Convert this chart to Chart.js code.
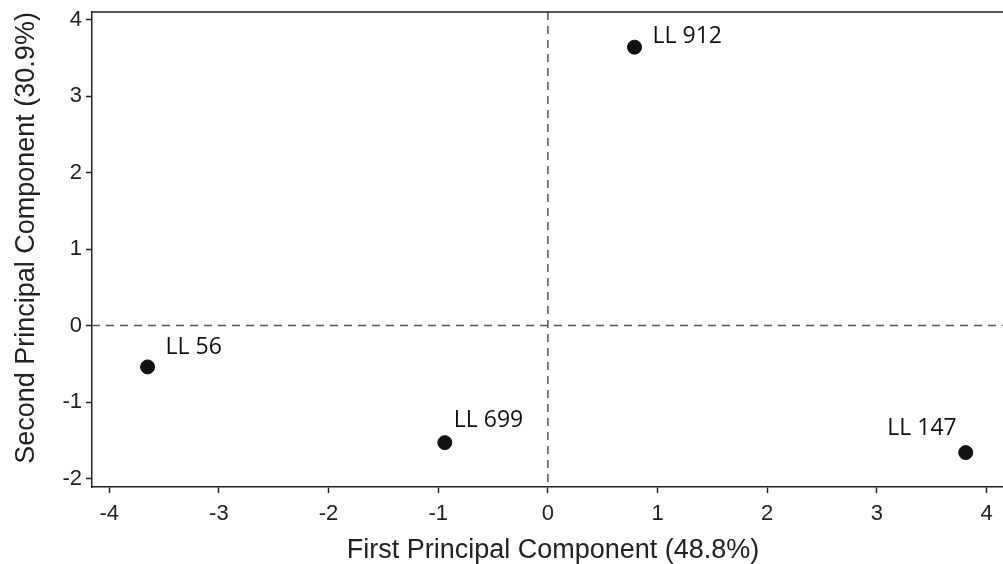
<!DOCTYPE html>
<html>
<head>
<meta charset="utf-8">
<script src="https://cdn.jsdelivr.net/npm/chart.js@4/dist/chart.umd.min.js"></script>
<style>
  html, body { margin: 0; padding: 0; background: #fff; }
  #wrap { width: 1003px; height: 564px; position: relative; }
</style>
</head>
<body>
<div id="wrap"><canvas id="pca"></canvas></div>
<script>
// valores
const lineNames = ['LL 56', 'LL 699', 'LL 912', 'LL 147'];
const pc1 = [-3.65, -0.94, 0.79, 3.81];
const pc2 = [-0.54, -1.53, 3.64, -1.66];
const xTicks = [-4, -3, -2, -1, 0, 1, 2, 3, 4];
const yTicks = [-2, -1, 0, 1, 2, 3, 4];
const xTitle = 'First Principal Component (48.8%)';
const yTitle = 'Second Principal Component (30.9%)';

const axisFont = { family: 'Liberation Sans, Arial, sans-serif', size: 22 };
const titleFontCss = '27px "Liberation Sans", Arial, sans-serif';

// desplazamiento de cada etiqueta respecto a su punto
const labelOffsets = {
  'LL 56': { dx: 18, dy: -19, align: 'left' },
  'LL 699': { dx: 9, dy: -22, align: 'left' },
  'LL 912': { dx: 18, dy: -11, align: 'left' },
  'LL 147': { dx: -9, dy: -24, align: 'right' }
};

// lineas punteadas en cero, borde superior, titulos y etiquetas
const extras = {
  id: 'extras',
  beforeDatasetsDraw(chart) {
    const { ctx, chartArea: a, scales } = chart;
    const x0 = scales.x.getPixelForValue(0);
    const y0 = scales.y.getPixelForValue(0);
    ctx.save();
    ctx.strokeStyle = '#555';
    ctx.lineWidth = 1.5;
    ctx.setLineDash([8, 6]);
    ctx.beginPath();
    ctx.moveTo(x0, a.top); ctx.lineTo(x0, a.bottom);
    ctx.moveTo(a.left, y0); ctx.lineTo(a.right, y0);
    ctx.stroke();
    ctx.setLineDash([]);
    ctx.strokeStyle = '#222';
    ctx.lineWidth = 1.5;
    ctx.beginPath();
    ctx.moveTo(a.left, a.top); ctx.lineTo(a.right, a.top);
    ctx.stroke();

    // titulos de ejes
    ctx.font = titleFontCss;
    ctx.fillStyle = '#222';
    ctx.textAlign = 'center';
    ctx.textBaseline = 'alphabetic';
    ctx.fillText(xTitle, 553, 558);
    ctx.translate(34, 238);
    ctx.rotate(-Math.PI / 2);
    ctx.fillText(yTitle, 0, 0);
    ctx.restore();
  },
  afterDatasetsDraw(chart) {
    const { ctx } = chart;
    const meta = chart.getDatasetMeta(0);
    ctx.save();
    ctx.font = '23px "Open Sans", sans-serif';
    ctx.fillStyle = '#111';
    ctx.textBaseline = 'middle';
    meta.data.forEach((pt, i) => {
      const o = labelOffsets[lineNames[i]];
      ctx.textAlign = o.align;
      ctx.fillText(lineNames[i], pt.x + o.dx, pt.y + o.dy);
    });
    ctx.restore();
  }
};

new Chart(document.getElementById('pca'), {
  type: 'scatter',
  data: {
    datasets: [{
      data: pc1.map((v, i) => ({ x: v, y: pc2[i] })),
      backgroundColor: '#111',
      borderColor: '#111',
      pointRadius: 7,
      pointHoverRadius: 7
    }]
  },
  options: {
    responsive: true,
    maintainAspectRatio: false,
    animation: false,
    events: [],
    layout: { autoPadding: false, padding: { top: 12, right: 0, left: 0, bottom: 0 } },
    plugins: { legend: { display: false }, tooltip: { enabled: false } },
    scales: {
      x: {
        type: 'linear',
        min: -4.157,
        max: 4.15,
        afterBuildTicks: s => { s.ticks = xTicks.map(v => ({ value: v })); },
        afterFit: s => { s.height = 77; s.paddingLeft = 0; s.paddingRight = 0; },
        border: { display: true, color: '#222', width: 1.5 },
        grid: { display: true, drawOnChartArea: false, drawTicks: true, tickLength: 6, color: '#222', tickWidth: 1.5 },
        ticks: { color: '#222', font: axisFont, padding: 8, maxRotation: 0 },
        title: { display: false }
      },
      y: {
        type: 'linear',
        min: -2.11,
        max: 4.10,
        afterBuildTicks: s => { s.ticks = yTicks.map(v => ({ value: v })); },
        afterFit: s => { s.width = 92; s.paddingTop = 0; s.paddingBottom = 0; },
        border: { display: true, color: '#222', width: 1.5 },
        grid: { display: true, drawOnChartArea: false, drawTicks: true, tickLength: 6, color: '#222', tickWidth: 1.5 },
        ticks: { color: '#222', font: axisFont, padding: 4 },
        title: { display: false }
      }
    }
  },
  plugins: [extras]
});
</script>
</body>
</html>
